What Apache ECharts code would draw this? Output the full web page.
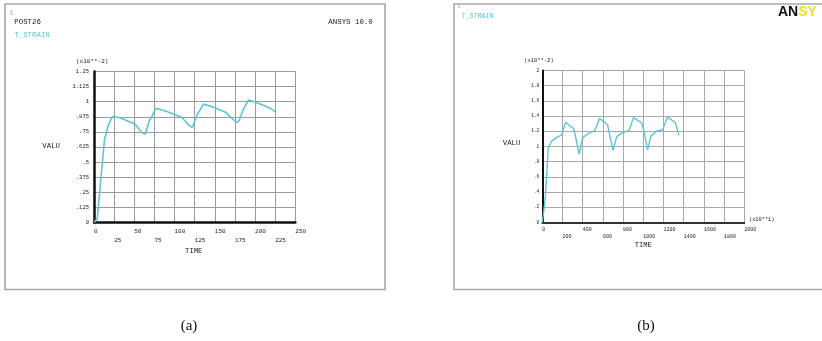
<!DOCTYPE html>
<html>
<head>
<meta charset="utf-8">
<script src="https://cdn.jsdelivr.net/npm/echarts@6/dist/echarts.min.js"></script>
<style>
html,body{margin:0;padding:0;background:#fff;}
#c{width:822px;height:341px;}
</style>
</head>
<body>
<div id="c"></div>
<script>
// ---- Panel (a) data ----
var timeA = [0, 4, 13, 18, 23, 32, 51, 59, 64, 68, 77, 88, 109, 117, 122, 128, 136, 146, 164, 171, 177, 180, 185, 192, 200, 214, 220, 225];
var valA  = [0, 0.03, 0.685, 0.81, 0.878, 0.867, 0.815, 0.745, 0.732, 0.83, 0.945, 0.925, 0.872, 0.81, 0.787, 0.89, 0.98, 0.96, 0.91, 0.864, 0.83, 0.84, 0.93, 1.015, 0.997, 0.96, 0.94, 0.918];
var xTicksA = {min: 0, max: 250, step: 25};
var yTicksA = {min: 0, max: 1.25, step: 0.125};

// ---- Panel (b) data ----
var timeB = [0, 30, 59, 92, 142, 191, 231, 313, 365, 398, 454, 520, 566, 645, 700, 737, 790, 859, 902, 984, 1007, 1043, 1076, 1132, 1191, 1240, 1319, 1352];
var valB  = [0, 0.32, 0.98, 1.07, 1.12, 1.15, 1.32, 1.23, 0.90, 1.11, 1.17, 1.21, 1.37, 1.29, 0.95, 1.13, 1.18, 1.21, 1.38, 1.31, 1.20, 0.957, 1.14, 1.20, 1.22, 1.39, 1.31, 1.15];
var xTicksB = {min: 0, max: 2000, step: 200};
var yTicksB = {min: 0, max: 2, step: 0.2};

var MONO = '"Liberation Mono", "DejaVu Sans Mono", monospace';
var CYAN = '#5cc6d2';
var INK = '#222';

function pairs(xs, ys){ return xs.map(function(x,i){ return [x, ys[i]]; }); }
function yFmt(v){
  if (v === 0) return '0';
  var s = String(+v.toFixed(3));
  return s.replace(/^0\./, '.');
}
function xFmt(v, i){
  var k = Math.round(v);
  return (i % 2) ? '\n' + k : '' + k;
}

var chart = echarts.init(document.getElementById('c'), null, {renderer: 'canvas'});

function txt(x, y, s, size, color, align, weight){
  return {type: 'text', x: x, y: y, silent: true,
    style: {text: s, fill: color || INK, font: (weight || 'normal') + ' ' + size + 'px ' + MONO,
            align: align || 'left', verticalAlign: 'middle'}};
}

var option = {
  animation: false,
  backgroundColor: '#fff',
  grid: [
    {left: 94, top: 71.5, width: 201.3, height: 151},
    {left: 542.3, top: 70.5, width: 202, height: 152}
  ],
  xAxis: [
    {type: 'value', gridIndex: 0, min: xTicksA.min, max: xTicksA.max, interval: xTicksA.step,
     axisLine: {show: true, onZero: false, lineStyle: {color: '#111', width: 2.5}},
     axisTick: {show: false},
     splitLine: {show: true, lineStyle: {color: '#9a9a9a', width: 1}},
     axisLabel: {formatter: xFmt, align: 'left', margin: 5, fontSize: 6, lineHeight: 8.5,
                 fontFamily: MONO, color: INK, verticalAlign: 'top'}},
    {type: 'value', gridIndex: 1, min: xTicksB.min, max: xTicksB.max, interval: xTicksB.step,
     axisLine: {show: true, onZero: false, lineStyle: {color: '#333', width: 2}},
     axisTick: {show: false},
     splitLine: {show: true, lineStyle: {color: '#a8a8a8', width: 1}},
     axisLabel: {formatter: xFmt, align: 'left', margin: 4, fontSize: 5, lineHeight: 7,
                 fontFamily: MONO, color: INK, verticalAlign: 'top'}}
  ],
  yAxis: [
    {type: 'value', gridIndex: 0, min: yTicksA.min, max: yTicksA.max, interval: yTicksA.step,
     axisLine: {show: true, onZero: false, lineStyle: {color: '#111', width: 2.5}},
     axisTick: {show: false},
     splitLine: {show: true, lineStyle: {color: '#9a9a9a', width: 1}},
     axisLabel: {formatter: yFmt, margin: 5, fontSize: 5.5, fontFamily: MONO, color: INK}},
    {type: 'value', gridIndex: 1, min: yTicksB.min, max: yTicksB.max, interval: yTicksB.step,
     axisLine: {show: true, onZero: false, lineStyle: {color: '#111', width: 2}},
     axisTick: {show: false},
     splitLine: {show: true, lineStyle: {color: '#a8a8a8', width: 1}},
     axisLabel: {formatter: yFmt, margin: 3, fontSize: 4.5, fontFamily: MONO, color: INK}}
  ],
  series: [
    {type: 'line', xAxisIndex: 0, yAxisIndex: 0, data: pairs(timeA, valA),
     showSymbol: false, symbol: 'none', lineStyle: {color: CYAN, width: 1.6}, z: 5},
    {type: 'line', xAxisIndex: 1, yAxisIndex: 1, data: pairs(timeB, valB),
     showSymbol: false, symbol: 'none', lineStyle: {color: CYAN, width: 1.4}, z: 5}
  ],
  graphic: [
    // panel borders
    {type: 'rect', shape: {x: 5, y: 4, width: 380, height: 285.5}, silent: true,
     style: {fill: 'none', stroke: '#a8a8a8', lineWidth: 1.6}},
    {type: 'rect', shape: {x: 454, y: 4, width: 380, height: 285.5}, silent: true,
     style: {fill: 'none', stroke: '#a8a8a8', lineWidth: 1.6}},
    // panel (a) texts
    txt(9.5, 13.5, '1', 7, CYAN),
    txt(14.3, 22, 'POST26', 7.4, INK),
    txt(372.7, 22, 'ANSYS 10.0', 7.4, INK, 'right'),
    txt(14.3, 35.5, 'T_STRAIN', 7.4, CYAN),
    txt(76, 61.7, '(x10**-2)', 6, INK),
    txt(42.3, 145.7, 'VALU', 7.4, INK),
    txt(193.7, 251.5, 'TIME', 7.2, INK, 'center'),
    // panel (b) texts
    txt(457.5, 6.5, '1', 5, CYAN),
    txt(461.7, 16, 'T_STRAIN', 6.6, CYAN),
    {type: 'text', x: 778, y: 12, silent: true,
     style: {text: '{k|AN}{y|SY}', verticalAlign: 'middle', align: 'left',
       rich: {k: {fill: '#111', font: 'bold 14px "Liberation Sans", Arial, sans-serif'},
              y: {fill: '#f2e21a', font: 'bold 14px "Liberation Sans", Arial, sans-serif'}}}},
    txt(524, 60.5, '(x10**-2)', 5.5, INK),
    txt(502.7, 142.7, 'VALU', 7.4, INK),
    txt(749, 220, '(x10**1)', 5.3, INK),
    txt(643.3, 245.3, 'TIME', 7.2, INK, 'center'),
    // captions
    {type: 'text', x: 189, y: 326, silent: true,
     style: {text: '(a)', fill: '#111', font: '15px "Liberation Serif", "Times New Roman", serif',
             align: 'center', verticalAlign: 'middle'}},
    {type: 'text', x: 646, y: 326, silent: true,
     style: {text: '(b)', fill: '#111', font: '15px "Liberation Serif", "Times New Roman", serif',
             align: 'center', verticalAlign: 'middle'}}
  ]
};
chart.setOption(option);
</script>
</body>
</html>
